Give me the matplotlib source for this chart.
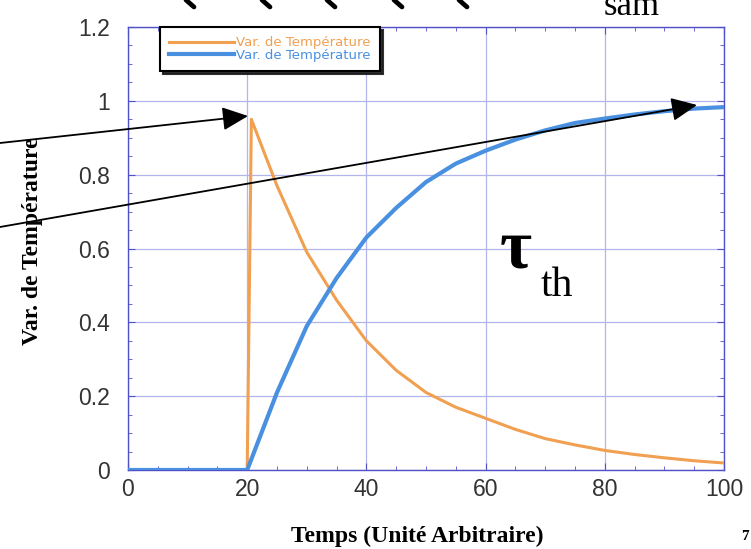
import matplotlib
matplotlib.use('Agg')
import matplotlib.pyplot as plt
from matplotlib.lines import Line2D
from matplotlib.ticker import MultipleLocator

# values
t_orange = [0, 20, 20.7, 25, 30, 35, 40, 45, 50, 55, 60, 65, 70, 75, 80, 85, 90, 95, 100]
v_orange = [0, 0, 0.95, 0.77, 0.59, 0.46, 0.35, 0.27, 0.21, 0.17, 0.14, 0.11, 0.085,
            0.068, 0.053, 0.042, 0.033, 0.025, 0.019]
t_blue = [0, 20, 25, 30, 35, 40, 45, 50, 55, 60, 65, 70, 75, 80, 85, 90, 95, 100]
v_blue = [0, 0, 0.21, 0.39, 0.52, 0.63, 0.71, 0.78, 0.83, 0.865, 0.895, 0.92, 0.94,
          0.952, 0.963, 0.972, 0.979, 0.983]
legend_labels = ['Var. de Température', 'Var. de Température']
x_ticks = [0, 20, 40, 60, 80, 100]
y_ticks = [0, 0.2, 0.4, 0.6, 0.8, 1, 1.2]
y_tick_labels = ['0', '0.2', '0.4', '0.6', '0.8', '1', '1.2']

orange = '#f0a050'
blue = '#4a90e0'
axis_blue = '#5050c8'
grid_blue = '#b4b4ec'
W, H = 751, 549

fig = plt.figure(figsize=(W / 100, H / 100), dpi=100)
ax = fig.add_axes([128 / W, 1 - 470 / H, 596 / W, 443 / H])

ax.plot(t_orange, v_orange, color=orange, lw=2.2, label=legend_labels[0], zorder=3)
ax.plot(t_blue, v_blue, color=blue, lw=3.0, label=legend_labels[1], zorder=3)

ax.set_xlim(0, 100)
ax.set_ylim(0, 1.2)
ax.set_xticks(x_ticks)
ax.set_yticks(y_ticks)
ax.set_yticklabels(y_tick_labels)
ax.xaxis.set_minor_locator(MultipleLocator(5))
ax.yaxis.set_minor_locator(MultipleLocator(0.05))
ax.grid(True, which='major', color=grid_blue, lw=0.9, zorder=0)
ax.set_axisbelow(True)
for s in ax.spines.values():
    s.set_color(axis_blue)
    s.set_linewidth(1.0)
ax.tick_params(which='both', direction='in', top=True, right=True, color=axis_blue,
               labelcolor='#333333', labelsize=16.5)
ax.tick_params(which='major', length=5)
ax.tick_params(which='minor', length=3)
ax.tick_params(axis='y', pad=13)
ax.tick_params(axis='x', pad=6)
for lab in ax.get_xticklabels() + ax.get_yticklabels():
    lab.set_family('Liberation Sans')

leg = ax.legend(loc='upper left', bbox_to_anchor=(0.054, 1.0), borderaxespad=0,
                fontsize=9.5, handlelength=4.9, handletextpad=0.15, labelspacing=-0.05,
                borderpad=0.7, fancybox=False, framealpha=1,
                shadow={'color': '0.1', 'alpha': 0.9}, labelcolor=[orange, blue])
leg.get_frame().set_edgecolor('black')
leg.get_frame().set_linewidth(1.5)

# axis titles
serif = 'Liberation Serif'
fig.text(33 / W, 1 - 241 / H, 'Var. de Température', rotation=90, ha='center', va='center',
         family=serif, weight='bold', fontsize=17)
fig.text(417 / W, 1 - 536 / H, 'Temps (Unité Arbitraire)', ha='center', va='center',
         family=serif, weight='bold', fontsize=17)

# tau_th annotation
fig.text(500 / W, 1 - 268 / H, 'τ', family=serif, weight='bold', fontsize=50, va='baseline')
fig.text(541 / W, 1 - 296 / H, 'th', family=serif, fontsize=30, va='baseline')

# arrows from the slide
for start, end in [((0, 549 - 143), (248, 549 - 116)), ((0, 549 - 227), (697, 549 - 105))]:
    ax.annotate('', xy=end, xycoords='figure pixels', xytext=start, textcoords='figure pixels',
                arrowprops=dict(arrowstyle='-|>,head_length=1.05,head_width=0.48', color='black',
                                lw=1.3, shrinkA=0, shrinkB=0, mutation_scale=15),
                annotation_clip=False)

# bits of the slide cut off at the top
for xp in [192, 268, 333, 400, 465]:
    fig.add_artist(Line2D([(xp - 6) / W, (xp + 2) / W], [1.0, 1 - 7 / H], color='black',
                          lw=3.4, solid_capstyle='round', transform=fig.transFigure))
fig.text(604 / W, 1 - 15 / H, 'sam', family=serif, fontsize=25, va='baseline')
fig.text(741 / W, 1 - 537 / H, '7', family=serif, weight='bold', fontsize=11, va='center')

fig.savefig('out.png', dpi=100)
